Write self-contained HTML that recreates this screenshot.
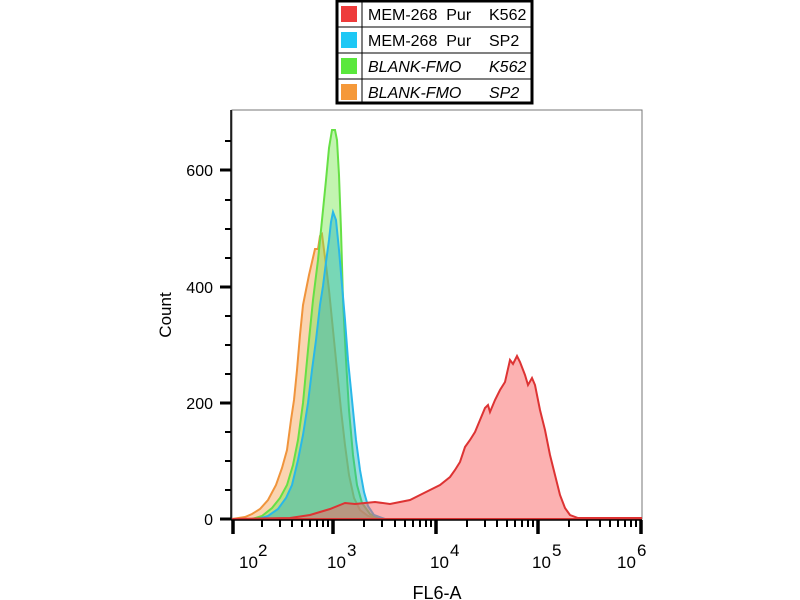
<!DOCTYPE html>
<html><head><style>
body{margin:0;background:#fff;}
svg{display:block;font-family:"Liberation Sans",Arial,sans-serif;}
</style></head><body>
<svg width="800" height="600" viewBox="0 0 800 600">
<rect x="232" y="110" width="410" height="409" fill="none" stroke="#777" stroke-width="1"/>
<!-- orange -->
<path d="M232,519 L245,517 L252,514 L260,509 L268,500 L276,485 L282,468 L287,450 L291,420 L294,400 L297,370 L300,335 L303,305 L306,290 L309,275 L312,262 L315,249 L318,249 L320,236 L322,234 L324,250 L326,265 L329,290 L333,330 L337,370 L341,410 L345,445 L349,475 L354,498 L360,510 L368,516 L380,519 Z" fill="rgba(247,160,80,0.45)" stroke="#f0943c" stroke-width="2"/>
<!-- green -->
<path d="M252,519 L262,516 L272,508 L280,498 L287,485 L293,465 L298,440 L303,403 L308,350 L313,300 L318,260 L322,220 L326,180 L329,148 L332,130 L335,130 L337,140 L339,175 L341,230 L343,300 L346,360 L349,410 L353,455 L357,485 L362,503 L370,514 L382,519 Z" fill="rgba(120,230,80,0.45)" stroke="#66e045" stroke-width="2"/>
<!-- blue -->
<path d="M258,519 L268,516 L278,509 L286,498 L292,485 L298,460 L303,435 L308,403 L312,370 L316,340 L320,305 L323,286 L326,262 L329,240 L331,222 L333,212 L336,220 L339,250 L342,285 L345,320 L348,360 L352,400 L356,440 L360,470 L364,492 L368,506 L374,515 L385,519 Z" fill="rgba(30,180,190,0.45)" stroke="#29b8e8" stroke-width="2"/>
<!-- red -->
<path d="M232,519 L290,518 L310,515 L330,509 L345,503 L355,504 L365,503 L375,502 L390,504 L400,502 L410,500 L420,495 L430,490 L440,485 L450,477 L455,470 L460,462 L465,447 L470,440 L475,432 L480,420 L485,408 L488,405 L490,412 L495,400 L500,390 L505,382 L510,360 L513,364 L517,356 L520,362 L525,375 L528,385 L532,378 L535,385 L540,410 L545,430 L550,455 L555,475 L560,495 L565,508 L570,515 L578,518 L641,518 L641,519 L232,519 Z" fill="rgba(250,100,100,0.5)" stroke="#dd3333" stroke-width="2"/>
<!-- y axis -->
<line x1="231" y1="110" x2="231" y2="520" stroke="#000" stroke-width="1.5"/>
<g stroke="#000" stroke-width="3">
<line x1="220" y1="519" x2="231" y2="519"/><line x1="220" y1="403" x2="231" y2="403"/><line x1="220" y1="287" x2="231" y2="287"/><line x1="220" y1="170" x2="231" y2="170"/>
</g>
<g stroke="#000" stroke-width="2">
<line x1="225" y1="490" x2="231" y2="490"/><line x1="225" y1="461" x2="231" y2="461"/><line x1="225" y1="432" x2="231" y2="432"/>
<line x1="225" y1="374" x2="231" y2="374"/><line x1="225" y1="345" x2="231" y2="345"/><line x1="225" y1="316" x2="231" y2="316"/>
<line x1="225" y1="258" x2="231" y2="258"/><line x1="225" y1="229" x2="231" y2="229"/><line x1="225" y1="200" x2="231" y2="200"/>
<line x1="225" y1="141" x2="231" y2="141"/>
</g>
<g font-size="16" text-anchor="end" fill="#000">
<text x="213" y="525">0</text><text x="213" y="409">200</text><text x="213" y="293">400</text><text x="213" y="176">600</text>
</g>
<text transform="translate(171,315) rotate(-90)" font-size="17" text-anchor="middle">Count</text>
<!-- x axis -->
<line x1="231" y1="520" x2="642" y2="520" stroke="#000" stroke-width="1.5"/>
<g stroke="#000" stroke-width="3.5">
<line x1="233" y1="520" x2="233" y2="534"/><line x1="333" y1="520" x2="333" y2="534"/><line x1="436" y1="520" x2="436" y2="534"/><line x1="538" y1="520" x2="538" y2="534"/><line x1="641" y1="520" x2="641" y2="534"/>
</g>
<g stroke="#000" stroke-width="2">
<line x1="262" y1="520" x2="262" y2="527"/><line x1="280" y1="520" x2="280" y2="527"/><line x1="292" y1="520" x2="292" y2="527"/><line x1="302" y1="520" x2="302" y2="527"/><line x1="310" y1="520" x2="310" y2="527"/><line x1="317" y1="520" x2="317" y2="527"/><line x1="323" y1="520" x2="323" y2="527"/><line x1="328" y1="520" x2="328" y2="527"/>
<line x1="364" y1="520" x2="364" y2="527"/><line x1="382" y1="520" x2="382" y2="527"/><line x1="395" y1="520" x2="395" y2="527"/><line x1="405" y1="520" x2="405" y2="527"/><line x1="413" y1="520" x2="413" y2="527"/><line x1="420" y1="520" x2="420" y2="527"/><line x1="426" y1="520" x2="426" y2="527"/><line x1="431" y1="520" x2="431" y2="527"/>
<line x1="467" y1="520" x2="467" y2="527"/><line x1="485" y1="520" x2="485" y2="527"/><line x1="497" y1="520" x2="497" y2="527"/><line x1="507" y1="520" x2="507" y2="527"/><line x1="515" y1="520" x2="515" y2="527"/><line x1="522" y1="520" x2="522" y2="527"/><line x1="528" y1="520" x2="528" y2="527"/><line x1="533" y1="520" x2="533" y2="527"/>
<line x1="569" y1="520" x2="569" y2="527"/><line x1="587" y1="520" x2="587" y2="527"/><line x1="600" y1="520" x2="600" y2="527"/><line x1="610" y1="520" x2="610" y2="527"/><line x1="618" y1="520" x2="618" y2="527"/><line x1="625" y1="520" x2="625" y2="527"/><line x1="631" y1="520" x2="631" y2="527"/><line x1="636" y1="520" x2="636" y2="527"/>
</g>
<g font-size="17" fill="#000">
<text x="239" y="568">10</text><text x="258" y="556">2</text>
<text x="327" y="568">10</text><text x="347" y="556">3</text>
<text x="430" y="568">10</text><text x="450" y="556">4</text>
<text x="532" y="568">10</text><text x="552" y="556">5</text>
<text x="617" y="568">10</text><text x="637" y="556">6</text>
</g>
<text x="437" y="599" font-size="18" text-anchor="middle">FL6-A</text>
<!-- legend -->
<rect x="337" y="1" width="195" height="102" fill="#fff" stroke="#000" stroke-width="3"/>
<line x1="362" y1="1" x2="362" y2="103" stroke="#000" stroke-width="1"/>
<line x1="337" y1="27" x2="532" y2="27" stroke="#000" stroke-width="1"/>
<line x1="337" y1="53" x2="532" y2="53" stroke="#000" stroke-width="1"/>
<line x1="337" y1="79" x2="532" y2="79" stroke="#000" stroke-width="1"/>
<rect x="341" y="6" width="16" height="16" fill="#ee3b3b"/>
<rect x="341" y="32" width="16" height="16" fill="#1ec8f5"/>
<rect x="341" y="58" width="16" height="16" fill="#5ae83c"/>
<rect x="341" y="84" width="16" height="16" fill="#f5993a"/>
<g font-size="16" fill="#000">
<text x="368" y="20" xml:space="preserve">MEM-268  Pur</text><text x="489" y="20">K562</text>
<text x="368" y="46" xml:space="preserve">MEM-268  Pur</text><text x="489" y="46">SP2</text>
<text x="368" y="72" font-style="italic">BLANK-FMO</text><text x="489" y="72" font-style="italic">K562</text>
<text x="368" y="98" font-style="italic">BLANK-FMO</text><text x="489" y="98" font-style="italic">SP2</text>
</g>
</svg>
</body></html>
